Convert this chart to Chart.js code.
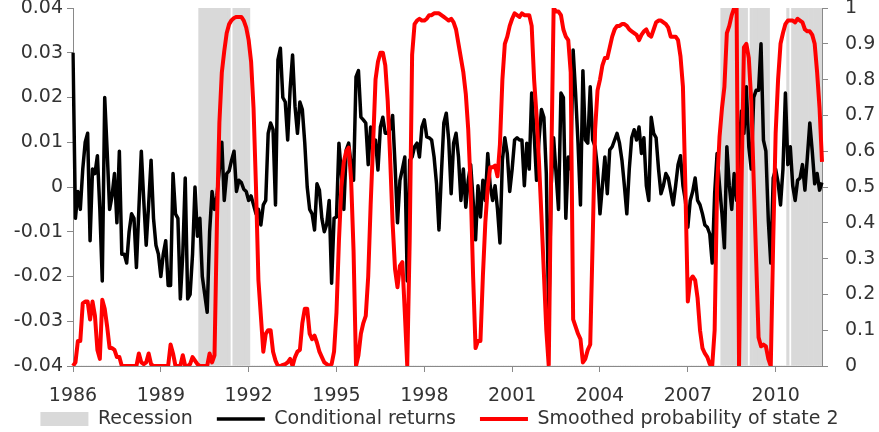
<!DOCTYPE html>
<html>
<head>
<meta charset="utf-8">
<script src="https://cdn.jsdelivr.net/npm/chart.js@4.4.1/dist/chart.umd.min.js"></script>
<style>
  html, body { margin: 0; padding: 0; background: #fff; }
</style>
</head>
<body>
<canvas id="grafico" width="879" height="432"></canvas>
<script>
// Meses 1986-01 .. 2011-08
const months = [];
for (let i = 0; i < 308; i++) {
    months.push((1986 + Math.floor(i / 12)) + '-' + String(i % 12 + 1).padStart(2, '0'));
}

// Etiquetas del eje x (cada 36 meses)
const tickYears = ['1986', '1989', '1992', '1995', '1998', '2001', '2004', '2007', '2010'];

// Periodos de recesión (inicio, fin)
const recessionSpans = [
    ['1990-05', '1991-05'], ['1991-07', '1992-01'],
    ['2008-03', '2009-01'], ['2009-03', '2009-10'],
    ['2010-06', '2010-06'], ['2010-08', '2011-08']
];

// Rendimientos condicionales (eje izquierdo)
const condReturns = [
    0.030, -0.007, -0.001, -0.005, 0.004, 0.010, 0.012, -0.012, 0.004, 0.003, 0.007, -0.005,
    -0.021, 0.020, 0.008, -0.005, -0.002, 0.003, -0.008, 0.008, -0.015, -0.015, -0.017, -0.010,
    -0.006, -0.007, -0.018, -0.005, 0.008, -0.003, -0.013, -0.004, 0.006, -0.007, -0.013, -0.015,
    -0.020, -0.015, -0.012, -0.022, -0.022, 0.003, -0.006, -0.007, -0.025, -0.015, 0.002, -0.025,
    -0.024, -0.015, 0.000, -0.011, -0.007, -0.020, -0.024, -0.028, -0.010, -0.001, -0.005, -0.002,
    0.004, 0.010, -0.003, 0.003, 0.0036, 0.006, 0.008, -0.001, 0.0015, 0.001, -0.0005, -0.001,
    -0.003, -0.002, -0.004, -0.006, -0.005, -0.0085, -0.004, -0.003, 0.012, 0.0143, 0.0128, -0.004,
    0.0284, 0.031, 0.020, 0.019, 0.0105, 0.022, 0.0295, 0.018, 0.012, 0.019, 0.0173, 0.0098,
    0.000, -0.005, -0.006, -0.0096, 0.0007, -0.0007, -0.007, -0.010, -0.0083, -0.003, -0.0215, -0.007,
    -0.0067, 0.0098, 0.003, -0.005, 0.0083, 0.0098, 0.005, 0.0015, 0.0246, 0.026, 0.0156, 0.015,
    0.0143, 0.005, 0.0134, 0.0098, 0.0105, 0.0038, 0.0134, 0.0156, 0.012, 0.012, 0.013, 0.016,
    0.005, -0.008, 0.0015, 0.004, 0.0067, -0.021, 0.006, 0.0067, 0.009, 0.0098, 0.0067, 0.0134,
    0.015, 0.0112, 0.011, 0.0105, 0.0067, 0.0007, -0.0096, 0.003, 0.0143, 0.0165, 0.0105, -0.0015,
    0.0098, 0.012, 0.0067, -0.003, 0.004, -0.0045, 0.0015, 0.005, -0.003, -0.0118, 0.0003, -0.0067,
    0.0015, -0.003, 0.0075, 0.0003, -0.003, 0.0003, -0.005, -0.0125, 0.006, 0.011, 0.0075, -0.001,
    0.004, 0.0105, 0.011, 0.0105, 0.0105, 0.0003, 0.0098, 0.004, 0.021, 0.012, 0.0015, 0.0105,
    0.0173, 0.0156, 0.003, -0.030, 0.0003, 0.011, 0.003, -0.005, 0.021, 0.020, -0.007, 0.0067,
    0.004, 0.0306, 0.021, 0.0098, -0.004, 0.026, 0.0105, 0.0098, 0.0224, 0.0105, 0.009, 0.004,
    -0.006, 0.0003, 0.0067, -0.0015, 0.0083, 0.009, 0.0105, 0.012, 0.0098, 0.006, 0.0003, -0.006,
    0.004, 0.011, 0.0128, 0.0105, 0.0134, 0.0075, 0.011, 0.0003, -0.003, 0.0156, 0.012, 0.011,
    0.004, -0.0015, 0.0003, 0.003, 0.002, -0.001, -0.004, 0.0003, 0.005, 0.007, 0.0003, -0.003,
    -0.009, -0.003, -0.001, 0.002, -0.003, -0.004, -0.006, -0.0085, -0.009, -0.0105, -0.017, -0.0015,
    0.0075, 0.0003, -0.006, -0.0136, 0.009, 0.0003, -0.005, 0.003, -0.003, 0.008, 0.017, 0.012,
    0.0224, 0.009, 0.004, 0.020, 0.0216, 0.0216, 0.032, 0.0105, 0.008, -0.0075, -0.017, 0.002,
    0.004, 0.001, -0.004, 0.004, 0.021, 0.005, 0.009, 0.0003, -0.003, 0.0015, 0.002, 0.005,
    -0.0007, 0.0067, 0.0143, 0.008, 0.0007, 0.003, -0.0007, 0.001
];

// Probabilidad suavizada del estado 2 (eje derecho)
const probState2 = [
    0, 0.01, 0.07, 0.07, 0.175, 0.18, 0.18, 0.13, 0.18, 0.14, 0.045, 0.02,
    0.185, 0.16, 0.11, 0.05, 0.05, 0.045, 0.025, 0.025, 0, 0, 0, 0,
    0, 0, 0, 0.035, 0.01, 0.005, 0.01, 0.035, 0.005, 0, 0, 0,
    0, 0, 0, 0, 0.06, 0.035, 0, 0, 0, 0.03, 0, 0,
    0.005, 0.025, 0.015, 0.005, 0, 0, 0, 0, 0.035, 0.01, 0.03, 0.40,
    0.68, 0.82, 0.88, 0.93, 0.955, 0.966, 0.972, 0.975, 0.975, 0.975, 0.965, 0.945,
    0.91, 0.85, 0.72, 0.50, 0.24, 0.14, 0.04, 0.09, 0.10, 0.10, 0.04, 0.015,
    0, 0, 0.003, 0.005, 0.01, 0.02, 0, 0.025, 0.04, 0.045, 0.12, 0.16,
    0.16, 0.09, 0.075, 0.085, 0.065, 0.04, 0.025, 0.01, 0.005, 0, 0.005, 0.04,
    0.15, 0.35, 0.50, 0.57, 0.60, 0.61, 0.52, 0.32, 0, 0.03, 0.09, 0.12,
    0.14, 0.25, 0.45, 0.62, 0.80, 0.85, 0.875, 0.875, 0.84, 0.74, 0.58, 0.40,
    0.27, 0.22, 0.28, 0.29, 0.15, 0, 0.35, 0.87, 0.955, 0.965, 0.97, 0.965,
    0.965, 0.97, 0.98, 0.98, 0.985, 0.985, 0.985, 0.98, 0.975, 0.97, 0.965, 0.97,
    0.96, 0.94, 0.90, 0.86, 0.82, 0.76, 0.66, 0.50, 0.25, 0.05, 0.07, 0.07,
    0.25, 0.40, 0.50, 0.555, 0.555, 0.56, 0.53, 0.62, 0.80, 0.90, 0.92, 0.95,
    0.97, 0.985, 0.98, 0.975, 0.985, 0.98, 0.98, 0.98, 0.95, 0.80, 0.70, 0.57,
    0.42, 0.26, 0.10, 0, 0.55, 1.0, 0.99, 0.99, 0.98, 0.94, 0.92, 0.91,
    0.82, 0.13, 0.11, 0.09, 0.075, 0.01, 0.02, 0.045, 0.06, 0.35, 0.66, 0.77,
    0.80, 0.84, 0.86, 0.86, 0.89, 0.92, 0.94, 0.95, 0.95, 0.955, 0.955, 0.95,
    0.94, 0.935, 0.93, 0.925, 0.91, 0.925, 0.935, 0.94, 0.925, 0.92, 0.94, 0.96,
    0.965, 0.965, 0.96, 0.955, 0.945, 0.92, 0.92, 0.92, 0.91, 0.865, 0.78, 0.50,
    0.18, 0.24, 0.25, 0.24, 0.19, 0.10, 0.05, 0.035, 0.025, 0.005, 0, 0.10,
    0.50, 0.64, 0.72, 0.78, 0.93, 0.95, 0.98, 1.0, 1.0, 0, 0.50, 0.89,
    0.90, 0.86, 0.74, 0.52, 0.30, 0.08, 0.055, 0.06, 0.055, 0.02, 0, 0.35,
    0.65, 0.80, 0.90, 0.93, 0.955, 0.965, 0.965, 0.965, 0.96, 0.97, 0.965, 0.96,
    0.94, 0.935, 0.935, 0.925, 0.90, 0.82, 0.72, 0.57
];

// Construir la serie de recesión (1 = mes en recesión)
const recession = months.map(m => recessionSpans.some(([a, b]) => m >= a && m <= b) ? 1 : 0);

const fuente = { family: 'DejaVu Sans', size: 19 };
const fuenteEjeX = { family: 'DejaVu Sans', size: 19, lineHeight: 1 };
const gris = '#898989';
const texto = '#333333';
const legendPadding = 24;

function sinPadding(scale) {
    scale.paddingTop = 0;
    scale.paddingBottom = 0;
    scale.paddingLeft = 0;
    scale.paddingRight = 0;
}

// Coloca la leyenda a la altura de la referencia
const posLeyenda = {
    id: 'posLeyenda',
    afterLayout(chart) {
        const lg = chart.legend;
        const h = lg.height;
        lg.top = 419 - legendPadding - 9.5;
        lg.bottom = lg.top + h;
    }
};

const ctx = document.getElementById('grafico').getContext('2d');
new Chart(ctx, {
    type: 'bar',
    data: {
        labels: months,
        datasets: [
            {
                type: 'bar',
                label: 'Recession',
                data: recession,
                yAxisID: 'y2',
                backgroundColor: '#d9d9d9',
                borderWidth: 0,
                barPercentage: 1,
                categoryPercentage: 1,
                pointStyle: 'rect',
                order: 3
            },
            {
                type: 'line',
                label: 'Conditional returns',
                data: condReturns,
                yAxisID: 'y',
                borderColor: '#000000',
                backgroundColor: '#000000',
                borderWidth: 3.5,
                pointRadius: 0,
                tension: 0,
                borderJoinStyle: 'round',
                pointStyle: 'line',
                order: 2
            },
            {
                type: 'line',
                label: 'Smoothed probability of state 2',
                data: probState2,
                yAxisID: 'y2',
                borderColor: '#ff0000',
                backgroundColor: '#ff0000',
                borderWidth: 4,
                pointRadius: 0,
                tension: 0,
                borderJoinStyle: 'round',
                pointStyle: 'line',
                order: 1
            }
        ]
    },
    plugins: [posLeyenda],
    options: {
        responsive: false,
        animation: false,
        devicePixelRatio: 1,
        layout: { padding: { top: 8, left: 0, right: 0, bottom: -29 } },
        plugins: {
            tooltip: { enabled: false },
            legend: {
                position: 'bottom',
                labels: {
                    usePointStyle: true,
                    pointStyleWidth: 48,
                    boxHeight: 14,
                    padding: legendPadding,
                    font: fuente,
                    color: texto,
                    sort: (a, b) => a.datasetIndex - b.datasetIndex
                }
            }
        },
        scales: {
            x: {
                type: 'category',
                offset: false,
                grid: { drawOnChartArea: false, tickLength: 6, color: gris, offset: false },
                border: { display: true, color: gris },
                ticks: {
                    autoSkip: false,
                    maxRotation: 0,
                    padding: 15,
                    font: fuenteEjeX,
                    color: texto,
                    callback: (v, i) => i % 36 === 0 ? tickYears[i / 36] : null
                },
                afterFit: s => { s.height = 42; sinPadding(s); }
            },
            y: {
                position: 'left',
                min: -0.04,
                max: 0.04,
                grid: { drawOnChartArea: false, tickLength: 6, color: gris },
                border: { display: true, color: gris },
                ticks: {
                    stepSize: 0.01,
                    padding: 4,
                    font: fuente,
                    color: texto,
                    callback: v => {
                        const r = Math.round(v * 100) / 100;
                        return r === 0 ? '0' : r.toFixed(2);
                    }
                },
                afterFit: s => { s.width = 73; sinPadding(s); }
            },
            y2: {
                position: 'right',
                min: 0,
                max: 1,
                grid: { drawOnChartArea: false, tickLength: 6, color: gris },
                border: { display: true, color: gris },
                ticks: {
                    stepSize: 0.1,
                    padding: 17,
                    font: fuente,
                    color: texto,
                    callback: v => {
                        const r = Math.round(v * 10) / 10;
                        if (r === 0) return '0';
                        if (r === 1) return '1';
                        return r.toFixed(1);
                    }
                },
                afterFit: s => { s.width = 57; sinPadding(s); }
            }
        }
    }
});
</script>
</body>
</html>
